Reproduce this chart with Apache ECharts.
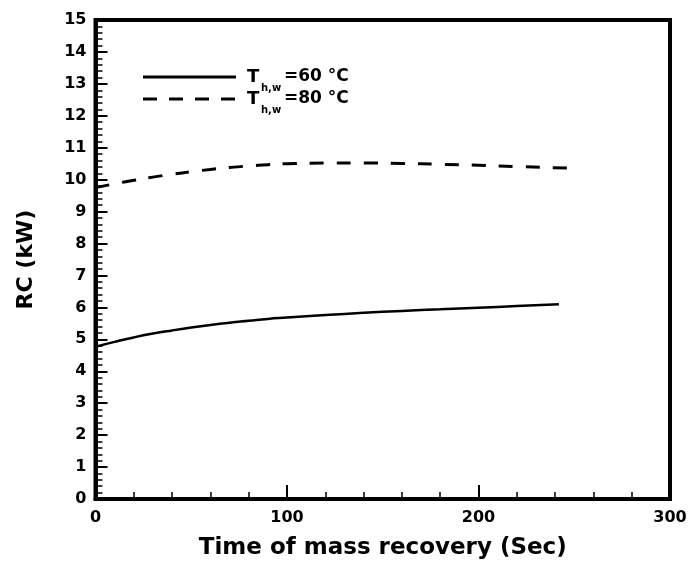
<!DOCTYPE html>
<html>
<head>
<meta charset="utf-8">
<script src="https://cdn.jsdelivr.net/npm/echarts@6/dist/echarts.min.js"></script>
<style>
html,body{margin:0;padding:0;background:#fff;}
#chart{width:691px;height:566px;}
</style>
</head>
<body>
<div id="chart"></div>
<script>
// Data
var timesA = [0, 10, 20, 30, 40, 50, 60, 70, 80, 90, 100, 120, 140, 160, 180, 200, 220, 242];
var rc60 = [4.77, 4.92, 5.06, 5.18, 5.28, 5.37, 5.45, 5.52, 5.58, 5.64, 5.68, 5.76, 5.83, 5.89, 5.94, 5.99, 6.04, 6.10];
var timesB = [0, 10, 20, 30, 40, 50, 60, 70, 80, 90, 100, 120, 140, 160, 180, 200, 220, 247];
var rc80 = [9.75, 9.87, 9.98, 10.08, 10.17, 10.25, 10.32, 10.38, 10.43, 10.47, 10.50, 10.52, 10.52, 10.51, 10.48, 10.45, 10.41, 10.36];
var seriesNames = ['60', '80'];
var xTitle = 'Time of mass recovery (Sec)';
var yTitle = 'RC (kW)';

function pairs(xs, ys) { return xs.map(function (x, i) { return [x, ys[i]]; }); }

var FONT = 'DejaVu Sans';
var chart = echarts.init(document.getElementById('chart'), null, {renderer: 'canvas'});

function legendItem(y, dashed, label) {
  return [
    {type: 'line', shape: {x1: 143, y1: y, x2: 236, y2: y},
     style: {stroke: '#000', lineWidth: 3, lineDash: dashed ? [14, 12] : null}},
    {type: 'text', x: 247, y: y, style: {text: 'T', font: 'bold 18px ' + FONT, fill: '#000', textVerticalAlign: 'middle', verticalAlign: 'middle'}},
    {type: 'text', x: 261, y: y + 11, style: {text: 'h,w', font: 'bold 10px ' + FONT, fill: '#000', textVerticalAlign: 'middle', verticalAlign: 'middle'}},
    {type: 'text', x: 284, y: y, style: {text: '=' + label + ' \u00B0C', font: 'bold 17px ' + FONT, fill: '#000', textVerticalAlign: 'middle', verticalAlign: 'middle'}}
  ];
}

var option = {
  backgroundColor: '#fff',
  animation: false,
  grid: {left: 95.5, right: 21, top: 20, bottom: 67, show: true, borderColor: '#000', borderWidth: 4, backgroundColor: 'transparent'},
  xAxis: {
    type: 'value', min: 0, max: 300, interval: 100,
    name: xTitle, nameLocation: 'middle', nameGap: 38,
    nameTextStyle: {fontFamily: FONT, fontWeight: 'bold', fontSize: 23, color: '#000'},
    axisLine: {show: true, lineStyle: {color: '#000', width: 4}},
    axisTick: {show: true, inside: true, length: 14, lineStyle: {color: '#000', width: 2}},
    minorTick: {show: true, splitNumber: 5, length: 7, lineStyle: {color: '#000', width: 1.5}},
    axisLabel: {fontFamily: FONT, fontWeight: 'bold', fontSize: 16, color: '#000', margin: 11},
    splitLine: {show: false}
  },
  yAxis: {
    type: 'value', min: 0, max: 15, interval: 1,
    name: yTitle, nameLocation: 'middle', nameGap: 58, nameRotate: 90,
    nameTextStyle: {fontFamily: FONT, fontWeight: 'bold', fontSize: 22, color: '#000'},
    axisLine: {show: true, lineStyle: {color: '#000', width: 4}},
    axisTick: {show: true, inside: true, length: 12, lineStyle: {color: '#000', width: 2}},
    minorTick: {show: true, splitNumber: 5, length: 7, lineStyle: {color: '#000', width: 1.5}},
    axisLabel: {fontFamily: FONT, fontWeight: 'bold', fontSize: 16, color: '#000', margin: 9},
    splitLine: {show: false}
  },
  series: [
    {name: seriesNames[0], type: 'line', data: pairs(timesA, rc60), smooth: true, symbol: 'none',
     lineStyle: {color: '#000', width: 2.5, type: 'solid'}},
    {name: seriesNames[1], type: 'line', data: pairs(timesB, rc80), smooth: true, symbol: 'none',
     lineStyle: {color: '#000', width: 3, type: [14, 13]}}
  ],
  graphic: [].concat(legendItem(77, false, seriesNames[0]), legendItem(99, true, seriesNames[1]))
};
chart.setOption(option);
</script>
</body>
</html>
